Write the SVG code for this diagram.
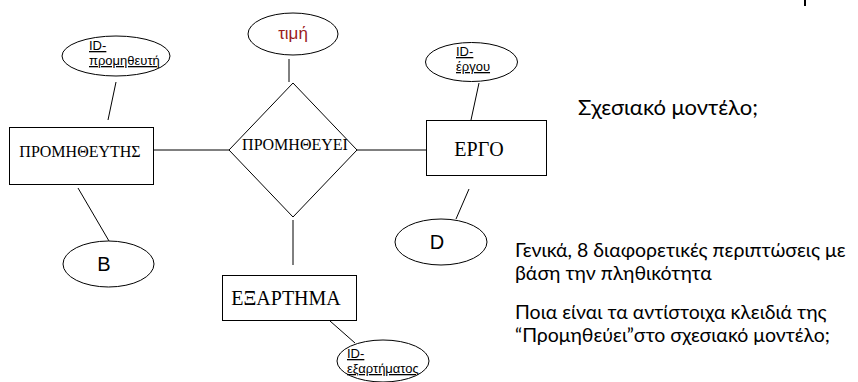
<svg xmlns="http://www.w3.org/2000/svg" width="858" height="382" viewBox="0 0 858 382">
  <style>
    .shape { fill: #ffffff; stroke: #000000; stroke-width: 1; }
    .link { stroke: #000000; stroke-width: 1; fill: none; }
    .entity { font-family: "Liberation Serif", "DejaVu Serif", serif; fill: #000000; }
    .attr { font-family: "Liberation Sans", Arial, sans-serif; fill: #000000; }
    .key { font-family: "Liberation Sans", Arial, sans-serif; font-size: 13px; fill: #000000; text-decoration: underline; }
    .note { font-family: Lato, "Noto Sans", sans-serif; fill: #000000; }
  </style>

  <rect x="0" y="0" width="858" height="382" fill="#ffffff"/>

  <!-- connectors -->
  <g id="connectors">
    <line class="link" x1="116" y1="82" x2="108" y2="120"/>
    <line class="link" x1="154" y1="150" x2="229" y2="150"/>
    <line class="link" x1="289" y1="59" x2="289" y2="82"/>
    <line class="link" x1="357" y1="150" x2="426" y2="150"/>
    <line class="link" x1="479" y1="83" x2="471" y2="120"/>
    <line class="link" x1="469" y1="189" x2="456" y2="219"/>
    <line class="link" x1="78" y1="188" x2="109" y2="241"/>
    <line class="link" x1="293" y1="220" x2="293" y2="265"/>
    <line class="link" x1="330" y1="321" x2="355" y2="343"/>
  </g>

  <!-- entities -->
  <g id="promitheftis">
    <rect class="shape" x="9.5" y="127.5" width="144" height="57"/>
    <text class="entity" x="80" y="157" font-size="16" text-anchor="middle">ΠΡΟΜΗΘΕΥΤΗΣ</text>
  </g>

  <g id="ergo">
    <rect class="shape" x="426.5" y="120.5" width="120" height="55"/>
    <text class="entity" x="479" y="156" font-size="20" text-anchor="middle">ΕΡΓΟ</text>
  </g>

  <g id="eksartima">
    <rect class="shape" x="222.5" y="275.5" width="134" height="45"/>
    <text class="entity" x="286" y="305" font-size="20" text-anchor="middle">ΕΞΑΡΤΗΜΑ</text>
  </g>

  <!-- relationship -->
  <g id="promitheyei">
    <polygon class="shape" points="293,83 357,150 293,217 229,150"/>
    <text class="entity" x="295" y="150" font-size="16" text-anchor="middle">ΠΡΟΜΗΘΕΥΕΙ</text>
  </g>

  <!-- attributes -->
  <g id="id-promitheuti">
    <ellipse class="shape" cx="116" cy="56" rx="54" ry="20"/>
    <text class="key" x="89" y="50">ID-</text>
    <text class="key" x="89" y="65">προμηθευτή</text>
  </g>

  <g id="timi">
    <ellipse class="shape" cx="293" cy="34" rx="45" ry="21"/>
    <text class="attr" x="293" y="39" font-size="17" style="fill:#9b1b1b" text-anchor="middle">τιμή</text>
  </g>

  <g id="id-ergou">
    <ellipse class="shape" cx="471.5" cy="62" rx="46" ry="19.5"/>
    <text class="key" x="456" y="56">ID-</text>
    <text class="key" x="456" y="71">έργου</text>
  </g>

  <g id="attr-b">
    <ellipse class="shape" cx="108.5" cy="264" rx="45.5" ry="23"/>
    <text class="attr" x="104" y="271" font-size="20" text-anchor="middle">B</text>
  </g>

  <g id="attr-d">
    <ellipse class="shape" cx="441" cy="242" rx="46" ry="23"/>
    <text class="attr" x="437" y="249" font-size="20" text-anchor="middle">D</text>
  </g>

  <g id="id-eksartimatos">
    <ellipse class="shape" cx="383" cy="361" rx="46" ry="21"/>
    <text class="key" x="347" y="358">ID-</text>
    <text class="key" x="347" y="373">εξαρτήματος</text>
  </g>

  <!-- side notes -->
  <g id="notes">
    <text class="note" x="578" y="115" font-size="22">Σχεσιακό μοντέλο;</text>
    <text class="note" x="515" y="257" font-size="19.5">Γενικά, 8 διαφορετικές περιπτώσεις με</text>
    <text class="note" x="515" y="280" font-size="19.5">βάση την πληθικότητα</text>
    <text class="note" x="515" y="319" font-size="19.5">Ποια είναι τα αντίστοιχα κλειδιά της</text>
    <text class="note" x="515" y="342" font-size="19.5">“Προμηθεύει”στο σχεσιακό μοντέλο;</text>
  </g>

  <!-- small mark at the top edge -->
  <line x1="805" y1="0" x2="805" y2="6" stroke="#000000" stroke-width="2"/>
</svg>
